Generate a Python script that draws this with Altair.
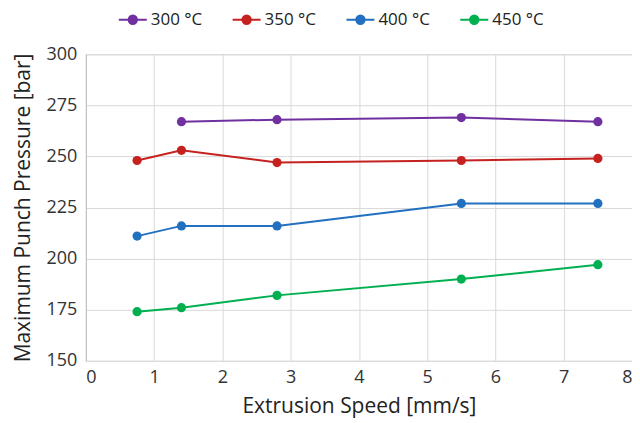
import altair as alt
import pandas as pd

speeds = [0.75, 1.4, 2.8, 5.5, 7.5]
series = ["300 °C", "350 °C", "400 °C", "450 °C"]
p300 = [None, 267, 268, 269, 267]
p350 = [248, 253, 247, 248, 249]
p400 = [211, 216, 216, 227, 227]
p450 = [174, 176, 182, 190, 197]
colors = ["#7030A0", "#C5221F", "#2270C0", "#00B050"]

rows = []
for name, vals in zip(series, [p300, p350, p400, p450]):
    for s, v in zip(speeds, vals):
        if v is not None:
            rows.append({"speed": s, "pressure": v, "temp": name})
df = pd.DataFrame(rows)

sym = ("M-1,0L1,0"
       "M-0.3,0a0.3,0.3 0 1,0 0.6,0a0.3,0.3 0 1,0 -0.6,0"
       "M-0.2,0a0.2,0.2 0 1,0 0.4,0a0.2,0.2 0 1,0 -0.4,0"
       "M-0.1,0a0.1,0.1 0 1,0 0.2,0a0.1,0.1 0 1,0 -0.2,0"
       "M-0.03,0a0.03,0.03 0 1,0 0.06,0a0.03,0.03 0 1,0 -0.06,0")

FONT = "Open Sans"

chart = alt.Chart(df).mark_line(
    strokeWidth=2,
    point=alt.OverlayMarkDef(filled=True, size=85, opacity=1),
).encode(
    x=alt.X("speed:Q", scale=alt.Scale(domain=[0, 8], nice=False),
            axis=alt.Axis(values=list(range(0, 9)), title="Extrusion Speed [mm/s]")),
    y=alt.Y("pressure:Q", scale=alt.Scale(domain=[150, 300], nice=False, zero=False),
            axis=alt.Axis(values=[150, 175, 200, 225, 250, 275, 300],
                          title="Maximum Punch Pressure [bar]")),
    color=alt.Color("temp:N", scale=alt.Scale(domain=series, range=colors),
                    legend=alt.Legend(title=None, orient="none", direction="horizontal",
                                      legendX=32, legendY=-50,
                                      symbolType=sym, symbolSize=784, symbolStrokeWidth=2,
                                      labelFontSize=17, labelFont=FONT, labelColor="#222222",
                                      columnPadding=26, labelOffset=3)),
).properties(
    width=547, height=307,
    autosize=alt.AutoSizeParams(type="none"),
    padding={"left": 78, "top": 46, "right": 0, "bottom": 60},
).configure_view(
    stroke="#d9d9d9"
).configure_axis(
    grid=True, gridColor="#d9d9d9", gridWidth=1,
    domainColor="#bfbfbf", ticks=False,
    labelFont=FONT, labelFontSize=18, labelColor="#333333",
    titleFont=FONT, titleFontSize=21, titleColor="#222222", titleFontWeight="normal",
).configure_axisX(
    domain=False, titlePadding=9, labelPadding=8
).configure_axisY(
    titlePadding=13, labelPadding=9
)

chart.save("out.html", embed_options={"renderer": "svg", "actions": False})
